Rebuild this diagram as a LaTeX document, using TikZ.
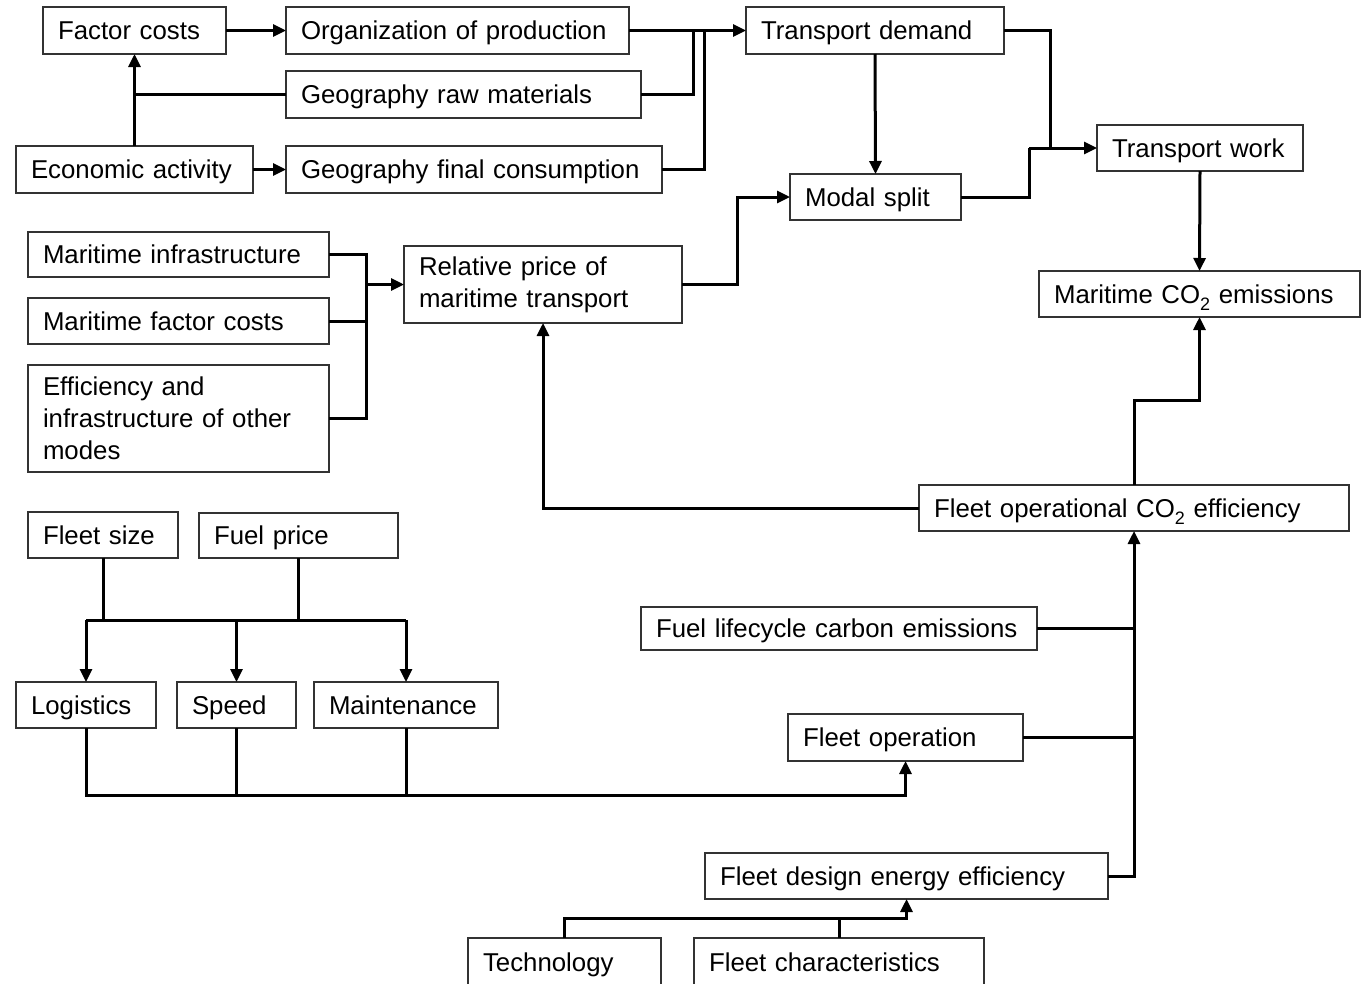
\documentclass[tikz,border=0pt]{standalone}
\usepackage{fontspec}
\setmainfont{Liberation Sans}
\usetikzlibrary{arrows.meta,calc}
\tikzset{
  boxbase/.style={draw=black!80, line width=1.2pt, inner xsep=15pt, inner ysep=0pt, outer sep=0pt,
    anchor=north west, align=left, font=\fontsize{25.8}{32}\selectfont},
  box/.style={boxbase, text height=24pt, text depth=5.4pt},
  ln/.style={line width=3pt, black},
  arr/.style={ln, -{Triangle[length=13pt,width=12pt]}}
}
\newcommand{\bx}[6]{\node[box, text width=#4pt-30pt, minimum height=#5pt] (#1) at (#2,#3) {#6};}
\newcommand{\bxm}[6]{\node[boxbase, text width=#4pt-30pt, minimum height=#5pt] (#1) at (#2,#3) {#6};}
\newcommand{\subtwo}{\raisebox{-7pt}{\fontsize{18}{18}\selectfont 2}}
\begin{document}
\begin{tikzpicture}[x=1pt,y=-1pt]
\useasboundingbox (0,0) rectangle (1362,983);
\bx{fc}{43}{7}{183}{47}{Factor costs}
\bx{org}{286}{7}{343}{47}{Organization of production}
\bx{td}{746}{7}{258}{47}{Transport demand}
\bx{geoa}{286}{71}{355}{47}{Geography raw materials}
\bx{econ}{16}{146}{237}{47}{Economic activity}
\bx{geob}{286}{146}{376}{47}{Geography final consumption}
\bx{tw}{1097}{125}{206}{46}{Transport work}
\bx{ms}{790}{174}{171}{46}{Modal split}
\bx{co}{1039}{271}{321}{46}{Maritime CO\subtwo{} emissions}
\bx{mi}{28}{232}{301}{45}{Maritime infrastructure}
\bx{mfc}{28}{298}{301}{46}{Maritime factor costs}
\bxm{eff}{28}{365}{301}{107}{Efficiency and\\infrastructure of other\\modes}
\bxm{rp}{404}{246}{278}{77}{Relative price of\\maritime transport}
\bx{foe}{919}{485}{430}{46}{Fleet operational CO\subtwo{} efficiency}
\bx{fs}{28}{512}{150}{46}{Fleet size}
\bx{fp}{199}{513}{199}{45}{Fuel price}
\bx{flc}{641}{607}{396}{43}{Fuel lifecycle carbon emissions}
\bx{log}{16}{682}{140}{46}{Logistics}
\bx{spd}{177}{682}{119}{46}{Speed}
\bx{mnt}{314}{682}{184}{46}{Maintenance}
\bx{fo}{788}{714}{235}{47}{Fleet operation}
\bx{fde}{705}{853}{403}{46}{Fleet design energy efficiency}
\bx{tech}{468}{938}{193}{48}{Technology}
\bx{fch}{694}{938}{290}{48}{Fleet characteristics}

% top-left cluster
\draw[arr] (fc.east) -- (org.west);
\draw[arr] (econ.north) -- (fc.south);
\draw[ln] (geoa.west) -- (econ.north |- geoa.west);
\draw[arr] (econ.east) -- (geob.west);
\draw[arr] (org.east) -- (td.west);
\coordinate (ja) at (693,0);
\coordinate (jb) at (704,0);
\draw[ln] (geoa.east) -| (ja |- org.east);
\draw[ln] (geob.east) -| (jb |- org.east);
% transport work
\coordinate (jc) at (1050,0);
\coordinate (jd) at (1029,0);
\draw[ln] (td.east) -| (jc |- tw.west);
\draw[ln] (ms.east) -| (jd |- tw.west);
\draw[arr] (jd |- tw.west) -- (tw.west);
\draw[arr] (td.south) -- (ms.north);
\draw[arr] (tw.south) -- (co.north);
% relative price
\draw[arr] (rp.east) -- ++(55,0) |- (ms.west);
\coordinate (bus) at (366,0);
\draw[ln] (mi.east) -| (bus |- eff.east) -- (eff.east);
\draw[ln] (mfc.east) -- (bus |- mfc.east);
\draw[arr] (bus |- rp.west) -- (rp.west);
% fleet operational efficiency
\draw[arr] (foe.west) -| (rp.south);
\draw[arr] (foe.north) -- ++(0,-85) -| (co.south);
\draw[arr] (fde.east) -| (foe.south);
\draw[ln] (flc.east) -- (foe.south |- flc.east);
\draw[ln] (fo.east) -- (foe.south |- fo.east);
% fleet size / fuel price
\coordinate (h) at (0,620);
\draw[ln] (fs.south) -- (fs.south |- h);
\draw[ln] (fp.south) -- (fp.south |- h);
\draw[ln] (log.north |- h) -- (mnt.north |- h);
\draw[arr] (log.north |- h) -- (log.north);
\draw[arr] (spd.north |- h) -- (spd.north);
\draw[arr] (mnt.north |- h) -- (mnt.north);
% logistics etc to fleet operation
\coordinate (bot) at (0,795);
\draw[arr] (log.south) |- (bot -| fo.south) -- (fo.south);
\draw[ln] (spd.south) -- (spd.south |- bot);
\draw[ln] (mnt.south) -- (mnt.south |- bot);
% technology
\coordinate (tt) at (0,918);
\draw[arr] (tech.north) |- (tt -| fde.south) -- (fde.south);
\draw[ln] (fch.north) -- (fch.north |- tt);
\end{tikzpicture}
\end{document}
